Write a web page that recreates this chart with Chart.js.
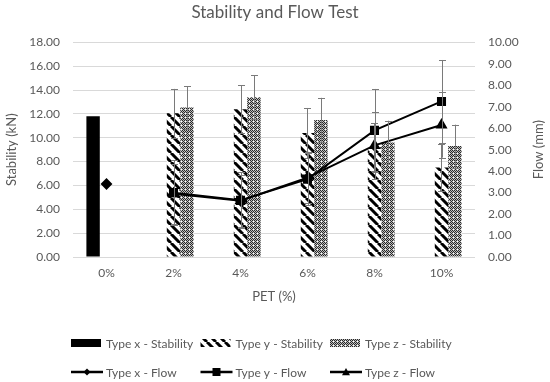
<!DOCTYPE html>
<html><head><meta charset="utf-8">
<script src="https://cdn.jsdelivr.net/npm/chart.js@4.4.0/dist/chart.umd.min.js"></script>
<style>html,body{margin:0;padding:0;background:#fff}#wrap{width:550px;height:382px;position:relative}</style>
</head><body><div id="wrap"><canvas id="c" width="550" height="382"></canvas></div>
<script>
const categories = ['0%', '2%', '4%', '6%', '8%', '10%'];
const stabilityX = [11.8, null, null, null, null, null];
const stabilityY = [null, 12.05, 12.4, 10.4, 9.2, 7.5];
const stabilityZ = [null, 12.55, 13.4, 11.5, 9.6, 9.3];
const stabilityYErr = [null, 2.05, 2.0, 2.1, 2.0, 2.0];
const stabilityZErr = [null, 1.78, 1.85, 1.85, 1.83, 1.8];
const flowX = [3.4, null, null, null, null, null];
const flowY = [null, 3.0, 2.64, 3.63, 5.9, 7.25];
const flowZ = [null, 2.95, 2.62, 3.7, 5.2, 6.15];
const flowYErr = [null, 1.5, 1.3, 1.2, 1.93, 1.93];
const flowZErr = [null, 1.4, 1.2, 1.2, 1.58, 1.52];
const seriesLabels = ['Type x - Stability', 'Type y - Stability', 'Type z - Stability', 'Type x - Flow', 'Type y - Flow', 'Type z - Flow'];
const chartTitle = 'Stability and Flow Test';
const xTitle = 'PET (%)';
const leftTitle = 'Stability (kN)';
const rightTitle = 'Flow (mm)';

const FONT = 'Lato';
const TXT = '#595959';

function hatchPattern() {
  const s = 9, c = document.createElement('canvas'); c.width = s; c.height = s;
  const g = c.getContext('2d');
  g.fillStyle = '#fff'; g.fillRect(0, 0, s, s);
  g.strokeStyle = '#000'; g.lineWidth = 3;
  g.beginPath();
  for (const o of [-s, 0, s]) { g.moveTo(o, 0); g.lineTo(o + s, s); }
  g.stroke();
  return g.createPattern(c, 'repeat');
}
function dotPattern() {
  const s = 4, c = document.createElement('canvas'); c.width = s; c.height = s;
  const g = c.getContext('2d');
  const img = g.createImageData(s, s);
  for (let y = 0; y < s; y++) for (let x = 0; x < s; x++) {
    let v = ((x + y) % 2 === 0) ? 40 : 190;
    if (x === 1 && y === 1) v = 255;
    const i = (y * s + x) * 4;
    img.data[i] = img.data[i + 1] = img.data[i + 2] = v; img.data[i + 3] = 255;
  }
  g.putImageData(img, 0, 0);
  return g.createPattern(c, 'repeat');
}
const hatch = hatchPattern();
const dots = dotPattern();

const errorBars = {
  id: 'errorBars',
  afterDatasetsDraw(chart) {
    const ctx = chart.ctx;
    ctx.save();
    ctx.strokeStyle = '#7a7a7a';
    ctx.lineWidth = 1;
    chart.data.datasets.forEach((ds, di) => {
      if (!ds.err) return;
      const meta = chart.getDatasetMeta(di);
      const sc = chart.scales[meta.yAxisID];
      meta.data.forEach((el, i) => {
        const v = ds.data[i], e = ds.err[i];
        if (v == null || e == null) return;
        const x = Math.round(el.x) + 0.5;
        const y1 = sc.getPixelForValue(v + e), y2 = sc.getPixelForValue(v - e);
        ctx.beginPath();
        ctx.moveTo(x, y1); ctx.lineTo(x, y2);
        ctx.moveTo(x - 3.5, Math.round(y1) + 0.5); ctx.lineTo(x + 3.5, Math.round(y1) + 0.5);
        ctx.moveTo(x - 3.5, Math.round(y2) + 0.5); ctx.lineTo(x + 3.5, Math.round(y2) + 0.5);
        ctx.stroke();
      });
    });
    ctx.restore();
  }
};

function drawMarker(ctx, style, x, y, r) {
  ctx.beginPath();
  if (style === 'rectRot') { ctx.moveTo(x, y - r); ctx.lineTo(x + r, y); ctx.lineTo(x, y + r); ctx.lineTo(x - r, y); }
  else if (style === 'rect') { ctx.rect(x - r, y - r, 2 * r, 2 * r); }
  else { ctx.moveTo(x, y - r); ctx.lineTo(x + r, y + r * 0.8); ctx.lineTo(x - r, y + r * 0.8); }
  ctx.closePath(); ctx.fill();
}

const customLegend = {
  id: 'customLegend',
  afterDraw(chart) {
    const ctx = chart.ctx;
    ctx.save();
    ctx.font = '12px ' + FONT;
    ctx.fillStyle = TXT;
    ctx.textBaseline = 'middle';
    const x0 = 71, colW = 129.5, rows = [343, 372];
    chart.data.datasets.forEach((ds, i) => {
      const row = i < 3 ? 0 : 1, col = i % 3;
      const x = x0 + col * colW, y = rows[row];
      if (ds.type === 'bar') {
        ctx.fillStyle = ds.backgroundColor;
        ctx.fillRect(x, y - 4, 30, 8);
      } else {
        ctx.strokeStyle = '#000'; ctx.lineWidth = 2.5;
        ctx.beginPath(); ctx.moveTo(x, y); ctx.lineTo(x + 32, y); ctx.stroke();
        ctx.fillStyle = '#000';
        drawMarker(ctx, ds.pointStyle, x + 16, y, ds.pointStyle === 'rectRot' ? 3.5 : 4);
      }
      ctx.fillStyle = TXT;
      ctx.fillText(ds.label, x + 35, y + 1);
    });
    // right axis title, reading bottom-to-top
    const s = chart.scales.y1;
    ctx.translate(s.right - 11, (chart.chartArea.top + chart.chartArea.bottom) / 2);
    ctx.rotate(-Math.PI / 2);
    ctx.textAlign = 'center';
    ctx.font = '13px ' + FONT;
    ctx.fillText(rightTitle, 0, 0);
    ctx.restore();
  }
};

new Chart(document.getElementById('c'), {
  data: {
    labels: categories,
    datasets: [
      { type: 'bar', label: seriesLabels[0], data: stabilityX, backgroundColor: '#000', yAxisID: 'y', order: 2 },
      { type: 'bar', label: seriesLabels[1], data: stabilityY, err: stabilityYErr, backgroundColor: hatch, yAxisID: 'y', order: 2 },
      { type: 'bar', label: seriesLabels[2], data: stabilityZ, err: stabilityZErr, backgroundColor: dots, yAxisID: 'y', order: 2 },
      { type: 'line', label: seriesLabels[3], data: flowX, yAxisID: 'y1', borderColor: '#000', backgroundColor: '#000', borderWidth: 2, pointStyle: 'rectRot', pointRadius: 4.5, order: 1 },
      { type: 'line', label: seriesLabels[4], data: flowY, err: flowYErr, yAxisID: 'y1', borderColor: '#000', backgroundColor: '#000', borderWidth: 2, pointStyle: 'rect', pointRadius: 5, order: 1 },
      { type: 'line', label: seriesLabels[5], data: flowZ, err: flowZErr, yAxisID: 'y1', borderColor: '#000', backgroundColor: '#000', borderWidth: 2, pointStyle: 'triangle', pointRadius: 5, order: 1 }
    ]
  },
  options: {
    responsive: false,
    animation: false,
    events: [],
    layout: { padding: { top: 0, left: 0, right: 0, bottom: 73 } },
    datasets: { bar: { categoryPercentage: 0.6, barPercentage: 1.0 } },
    plugins: {
      legend: { display: false },
      tooltip: { enabled: false },
      title: { display: true, text: chartTitle, color: TXT, font: { family: FONT, size: 17, weight: 'normal' }, padding: { top: 2, bottom: 20 } }
    },
    scales: {
      x: {
        afterFit: s => { s.height = 52; },
        grid: { display: false, drawTicks: false },
        border: { display: false },
        ticks: { color: TXT, font: { family: FONT, size: 12 }, padding: 9 },
        title: { display: true, text: xTitle, color: TXT, font: { family: FONT, size: 13 }, padding: { top: 8, bottom: 4 } }
      },
      y: {
        position: 'left', min: 0, max: 18,
        afterFit: s => { s.width = 73; },
        grid: { color: '#d9d9d9', drawTicks: false },
        border: { display: false },
        ticks: { stepSize: 2, color: TXT, font: { family: FONT, size: 12 }, padding: 13, callback: v => Number(v).toFixed(2) },
        title: { display: true, text: leftTitle, color: TXT, font: { family: FONT, size: 13 }, padding: { top: 4, bottom: 4 } }
      },
      y1: {
        position: 'right', min: 0, max: 10,
        afterFit: s => { s.width = 75; },
        grid: { display: false, drawTicks: false },
        border: { display: false },
        ticks: { stepSize: 1, color: TXT, font: { family: FONT, size: 12 }, padding: 13, callback: v => Number(v).toFixed(2) },
        title: { display: false, text: rightTitle }
      }
    }
  },
  plugins: [errorBars, customLegend]
});
</script>
</body></html>
